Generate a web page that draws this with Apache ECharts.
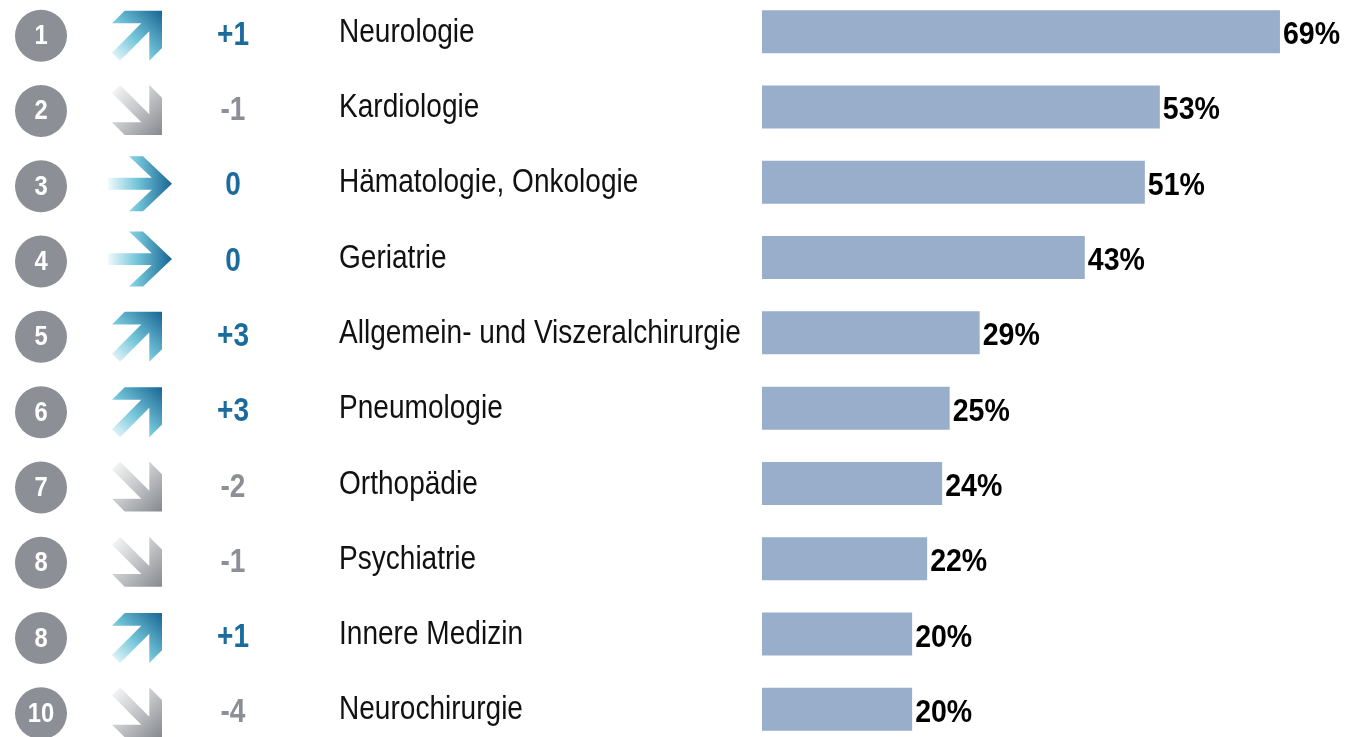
<!DOCTYPE html>
<html>
<head>
<meta charset="utf-8">
<script src="https://cdn.jsdelivr.net/npm/echarts@6/dist/echarts.min.js"></script>
<style>
  html, body { margin: 0; padding: 0; background: #fff; overflow: hidden; }
  #chart { position: absolute; left: 0; top: -6px; width: 1345px; height: 753px; }
</style>
</head>
<body>
<div id="chart"></div>
<script>
// Fachabteilungen, Anteil in %
var categories = ['Neurologie', 'Kardiologie', 'Hämatologie, Onkologie', 'Geriatrie',
  'Allgemein- und Viszeralchirurgie', 'Pneumologie', 'Orthopädie', 'Psychiatrie',
  'Innere Medizin', 'Neurochirurgie'];
var values = [69, 53, 51, 43, 29, 25, 24, 22, 20, 20];
var ranks = [1, 2, 3, 4, 5, 6, 7, 8, 8, 10];
var changes = [1, -1, 0, 0, 3, 3, -2, -1, 1, -4];

var FONT = '"Liberation Sans", Arial, sans-serif';
var BLUE = '#1b6c9c';
var GREY = '#8c9096';

// Pfeilformen (lokal, 50x50 bzw. 64x55)
var upArrow = [[0, 12.7], [12.7, 0], [50, 0], [50, 37.3], [37.3, 50], [37.3, 20.7],
  [8, 50], [0, 42], [29.3, 12.7]];
var rightArrow = [[0, 21.6], [43.8, 21.6], [21, 0], [35, 0], [64, 27.5], [35, 55],
  [21, 55], [43.8, 33.4], [0, 33.4]];

function shift(pts, dx, dy, flipY, h) {
  return pts.map(function (p) {
    return [p[0] + dx, (flipY ? h - p[1] : p[1]) + dy];
  });
}

// schmale Schrift nachbilden: Text horizontal stauchen
function narrowText(txt, x, y, size, weight, color, align, sx) {
  return {
    type: 'text',
    x: x, y: y, scaleX: sx,
    style: {
      text: txt, x: 0, y: 0,
      align: align, verticalAlign: 'middle',
      fontFamily: FONT, fontWeight: weight, fontSize: size, fill: color
    }
  };
}

var chart = echarts.init(document.getElementById('chart'));

var sideData = categories.map(function (c, i) {
  return [values[i], i, ranks[i], changes[i]];
});

var option = {
  animation: false,
  grid: { left: 762, right: 20, top: 0, bottom: 0 },
  xAxis: {
    type: 'value', min: 0, max: 75,
    show: false
  },
  yAxis: {
    type: 'category',
    inverse: true,
    data: categories,
    axisLine: { show: false },
    axisTick: { show: false },
    splitLine: { show: false },
    axisLabel: { show: false }
  },
  series: [
    {
      type: 'bar',
      data: values,
      barWidth: 43,
      itemStyle: { color: '#98aeca' }
    },
    {
      type: 'custom',
      data: sideData,
      clip: false,
      silent: true,
      renderItem: function (params, api) {
        var idx = api.value(1);
        var end = api.coord([api.value(0), idx]);
        var y = end[1];
        var rank = api.value(2);
        var ch = api.value(3);
        var kids = [];
        kids.push({
          type: 'circle',
          shape: { cx: 41, cy: y + 4, r: 26 },
          style: { fill: GREY }
        });
        kids.push(narrowText(String(rank), 41, y + 5, 27, 'bold', '#fff', 'center', 0.88));
        var arrow;
        if (ch > 0) {
          arrow = {
            type: 'polygon',
            shape: { points: shift(upArrow, 112, y - 21, false, 50) },
            style: {
              fill: new echarts.graphic.LinearGradient(0, 1, 1, 0, [
                { offset: 0, color: '#f0fafc' },
                { offset: 0.45, color: '#74c6da' },
                { offset: 1, color: '#186593' }
              ])
            }
          };
        } else if (ch < 0) {
          arrow = {
            type: 'polygon',
            shape: { points: shift(upArrow, 112, y - 22, true, 50) },
            style: {
              fill: new echarts.graphic.LinearGradient(0, 0, 1, 1, [
                { offset: 0, color: '#fbfbfb' },
                { offset: 0.5, color: '#c3c5c8' },
                { offset: 1, color: '#85888d' }
              ])
            }
          };
        } else {
          arrow = {
            type: 'polygon',
            shape: { points: shift(rightArrow, 108, y - 26, false, 55) },
            style: {
              fill: new echarts.graphic.LinearGradient(0, 0, 1, 0, [
                { offset: 0, color: '#f0fafc' },
                { offset: 0.45, color: '#74c6da' },
                { offset: 1, color: '#186593' }
              ])
            }
          };
        }
        kids.push(arrow);
        kids.push(narrowText((ch > 0 ? '+' : '') + ch, 233, y + 4, 33, 'bold',
          ch < 0 ? GREY : BLUE, 'center', 0.85));
        kids.push(narrowText(categories[idx], 339, y + 1, 33, 'normal', '#111', 'left', 0.85));
        kids.push(narrowText(api.value(0) + '%', end[0] + 3, y + 4, 31, 'bold', '#000', 'left', 0.92));
        return { type: 'group', children: kids };
      }
    }
  ]
};

chart.setOption(option);
</script>
</body>
</html>
